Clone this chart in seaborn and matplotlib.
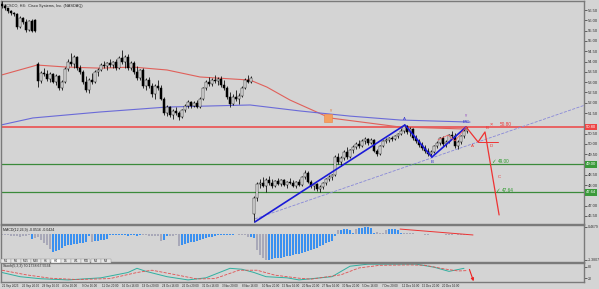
import numpy as np
import pandas as pd
import matplotlib
matplotlib.use("Agg")
import matplotlib.pyplot as plt
import seaborn as sns

sns.set_theme(style="white")
plt.rcParams["font.family"] = ["Liberation Sans", "DejaVu Sans"]

# ---------------- data ----------------
opens = [56.80, 56.70, 56.58, 56.45, 56.35, 56.30, 55.70, 56.10, 55.90, 55.55, 55.95, 56.00,
         53.90, 53.05, 53.45, 53.40, 53.15, 53.40, 53.00, 53.30, 52.70, 53.00, 53.65, 54.00,
         53.90, 54.20, 53.70, 53.50, 53.00, 52.60, 53.10, 53.00, 53.50, 53.60, 53.85, 53.80,
         53.95, 53.85, 54.00, 53.70, 54.15, 54.00, 54.20, 53.70, 53.95, 53.50, 53.20, 53.60,
         52.80, 53.10, 52.80, 52.40, 52.80, 52.70, 52.20, 51.50, 51.80, 51.40, 51.60, 51.50,
         51.30, 51.65, 51.85, 52.05, 51.85, 52.00, 51.80, 52.20, 52.70, 53.00, 52.90, 53.10,
         53.05, 53.15, 52.85, 52.70, 52.30, 51.95, 52.30, 52.20, 52.35, 52.70, 53.10, 53.00,
         46.60, 47.35, 48.05, 48.10, 47.95, 48.25, 48.10, 47.95, 48.20, 48.05, 48.25, 48.00,
         48.15, 48.10, 47.95, 48.15, 48.00, 48.40, 48.60, 48.15, 47.95, 48.05, 47.80, 47.90,
         48.10, 48.30, 48.40, 48.50, 49.35, 49.10, 49.30, 49.60, 49.35, 49.70, 49.85, 50.00,
         49.90, 50.15, 50.25, 50.05, 50.20, 49.65, 49.50, 49.90, 50.15, 50.20, 50.30, 50.25,
         50.40, 50.50, 50.65, 50.85, 50.60, 50.70, 50.30, 50.15, 49.95, 49.80, 49.65, 49.50,
         49.60, 49.90, 50.05, 50.30, 50.00, 50.10, 50.45, 50.40, 49.90, 50.10, 50.40, 50.65]
highs = [56.95, 56.78, 56.62, 56.52, 56.42, 56.36, 56.20, 56.18, 56.05, 56.00, 56.05, 56.05,
         54.00, 53.55, 53.70, 53.60, 53.50, 53.45, 53.40, 53.35, 53.10, 53.75, 54.10, 54.40,
         54.30, 54.25, 53.85, 53.60, 53.30, 53.20, 53.45, 53.60, 53.70, 53.95, 54.05, 54.00,
         54.10, 54.05, 54.10, 54.25, 54.56, 54.30, 54.35, 54.05, 54.05, 53.80, 53.65, 53.70,
         53.20, 53.25, 52.95, 52.90, 53.10, 52.85, 52.30, 51.90, 51.85, 51.70, 51.80, 51.60,
         51.70, 51.95, 52.13, 52.10, 52.10, 52.15, 52.30, 52.75, 53.10, 53.25, 53.20, 53.34,
         53.25, 53.30, 53.10, 52.80, 52.50, 52.40, 52.60, 52.45, 52.80, 53.20, 53.34, 53.30,
         47.45, 48.15, 48.30, 48.40, 48.35, 48.45, 48.30, 48.25, 48.35, 48.30, 48.30, 48.20,
         48.35, 48.25, 48.20, 48.30, 48.45, 48.73, 48.70, 48.25, 48.10, 48.10, 48.00, 48.15,
         48.35, 48.50, 48.55, 49.45, 49.55, 49.40, 49.70, 49.85, 49.75, 49.95, 50.10, 50.20,
         50.25, 50.33, 50.30, 50.30, 50.25, 49.75, 49.95, 50.20, 50.30, 50.35, 50.40, 50.45,
         50.55, 50.75, 50.95, 50.90, 50.80, 50.75, 50.45, 50.25, 50.10, 49.95, 49.80, 49.70,
         49.95, 50.15, 50.35, 50.40, 50.20, 50.50, 50.65, 50.55, 50.20, 50.45, 50.70, 50.82]
lows = [56.62, 56.50, 56.38, 56.28, 56.20, 55.60, 55.62, 55.80, 55.45, 55.50, 55.45, 55.42,
        52.78, 52.98, 53.30, 53.05, 53.00, 52.95, 52.85, 52.62, 52.60, 52.95, 53.55, 53.80,
        53.70, 53.60, 53.40, 52.90, 52.50, 52.47, 52.90, 52.95, 53.30, 53.55, 53.70, 53.60,
        53.75, 53.70, 53.60, 53.65, 53.90, 53.70, 53.60, 53.60, 53.40, 53.10, 53.10, 52.70,
        52.62, 52.70, 52.30, 52.20, 52.60, 52.13, 51.40, 51.35, 51.30, 51.20, 51.40, 51.16,
        51.25, 51.55, 51.75, 51.75, 51.80, 51.74, 51.75, 52.15, 52.60, 52.80, 52.80, 52.95,
        52.85, 52.76, 52.60, 52.20, 51.79, 51.90, 52.10, 51.95, 52.30, 52.65, 52.96, 52.96,
        46.21, 47.25, 47.85, 47.90, 47.65, 48.00, 47.85, 47.90, 48.00, 47.95, 47.95, 47.85,
        48.05, 47.90, 47.85, 47.95, 47.95, 48.30, 48.10, 47.85, 47.75, 47.70, 47.66, 47.80,
        48.00, 48.20, 48.25, 48.45, 49.00, 48.95, 49.20, 49.25, 49.30, 49.55, 49.75, 49.80,
        49.85, 50.00, 49.95, 50.00, 49.60, 49.40, 49.45, 49.85, 50.05, 50.10, 50.15, 50.20,
        50.30, 50.45, 50.55, 50.50, 50.40, 50.20, 50.05, 49.85, 49.70, 49.55, 49.40, 49.36,
        49.55, 49.80, 49.95, 49.90, 49.85, 50.05, 50.30, 49.80, 49.75, 50.00, 50.30, 50.55]
closes = [56.70, 56.58, 56.45, 56.35, 56.30, 55.70, 56.10, 55.90, 55.55, 55.95, 55.50, 55.48,
          53.05, 53.45, 53.40, 53.15, 53.40, 53.00, 53.30, 52.70, 53.00, 53.65, 54.00, 53.90,
          54.20, 53.70, 53.50, 53.00, 52.60, 53.10, 53.00, 53.50, 53.60, 53.85, 53.80, 53.95,
          53.85, 54.00, 53.70, 54.15, 54.00, 54.20, 53.70, 53.95, 53.50, 53.20, 53.60, 52.80,
          53.10, 52.80, 52.40, 52.80, 52.70, 52.20, 51.50, 51.80, 51.40, 51.60, 51.50, 51.30,
          51.65, 51.85, 52.05, 51.85, 52.00, 51.80, 52.20, 52.70, 53.00, 52.90, 53.10, 53.05,
          53.15, 52.85, 52.70, 52.30, 51.95, 52.30, 52.20, 52.35, 52.70, 53.10, 53.00, 53.20,
          47.35, 48.05, 48.10, 47.95, 48.25, 48.10, 47.95, 48.20, 48.05, 48.25, 48.00, 48.15,
          48.10, 47.95, 48.15, 48.00, 48.40, 48.60, 48.15, 47.95, 48.05, 47.80, 47.90, 48.10,
          48.30, 48.40, 48.50, 49.35, 49.10, 49.30, 49.60, 49.35, 49.70, 49.85, 50.00, 49.90,
          50.15, 50.25, 50.05, 50.20, 49.65, 49.50, 49.90, 50.15, 50.20, 50.30, 50.25, 50.40,
          50.50, 50.65, 50.85, 50.60, 50.70, 50.30, 50.15, 49.95, 49.80, 49.65, 49.50, 49.60,
          49.90, 50.05, 50.30, 50.00, 50.10, 50.45, 50.40, 49.90, 50.10, 50.40, 50.65, 50.70]

# moving averages (bar, price)
red_ma_x = [-0.3, 11.7, 21.7, 32.7, 43.7, 55.0, 66.0, 82.7, 88.3, 96.0, 109.3, 132.7, 155.0]
red_ma_y = [53.34, 53.83, 53.73, 53.68, 53.73, 53.59, 53.25, 53.10, 52.76, 52.13, 51.26, 50.82, 50.72]
blue_ma_x = [-0.3, 10.3, 32.7, 55.0, 82.7, 99.3, 116.0, 132.7, 156.0]
blue_ma_y = [50.92, 51.26, 51.55, 51.79, 51.89, 51.60, 51.35, 51.16, 51.06]

# levels
resist = 50.80
targets = [49.00, 47.64]

# harmonic / wave pattern points
wave_x = [84.3, 134.3, 143.3, 154.7]
wave_y = [46.21, 50.92, 49.36, 50.82]
proj_x = [154.7, 158.7, 161.0, 165.7]
proj_y = [50.82, 50.09, 50.58, 46.55]
sub_x = [145.3, 148.7, 151.0, 154.7]
sub_y = [50.19, 50.43, 50.14, 50.82]
chan_x = [84.3, 194.0]
chan_y = [46.36, 51.87]

# MACD histogram
macd_hist = [-0.05, -0.05, -0.08, -0.10, -0.10, -0.12, -0.15, -0.12, -0.10, -0.08,
             -0.25, -0.20, -0.15, -0.30, -0.45, -0.55,
             -0.75, -0.90, -0.85, -0.80, -0.70,
             -0.60, -0.55, -0.55, -0.50, -0.50, -0.45, -0.45, -0.40, -0.10,
             -0.40, -0.38, -0.35, -0.30, -0.30, -0.25,
             -0.08, -0.07, -0.06, -0.05, -0.08, -0.09, -0.10, -0.06, -0.05, -0.12,
             -0.05, -0.05, -0.08, -0.10, -0.12, -0.10, -0.12, -0.35, -0.30,
             -0.10, -0.12, -0.10, -0.08,
             -0.60, -0.55, -0.50, -0.45, -0.42, -0.40, -0.35, -0.30, -0.25, -0.20, -0.18, -0.15,
             -0.10, -0.08, -0.08, -0.06, -0.06, -0.05,
             -0.05, -0.04, -0.05, -0.06, -0.05, -0.15, -0.15,
             -0.20, -0.80, -1.05, -1.20,
             -1.30, -1.28, -1.25, -1.22, -1.20, -1.18, -1.15, -1.12, -1.10, -1.05, -1.02, -1.00,
             -0.95, -0.90, -0.85, -0.80, -0.75, -0.70, -0.62, -0.55, -0.48, -0.42, -0.38,
             -0.10, 0.15, 0.18, 0.20, 0.20, 0.18, 0.05,
             0.22, 0.25, 0.28, 0.30, 0.30, 0.28, 0.05, 0.06, 0.05, 0.04,
             0.18, 0.20, 0.22, 0.20, 0.18,
             0.03, 0.02, 0.03, 0.02, 0.01, -0.02, -0.03, -0.04, -0.05, -0.05, -0.04, -0.03,
             -0.02, -0.03, -0.04, -0.05, -0.06, -0.05, -0.04, -0.05, -0.06, -0.07, -0.05]
macd_col = ("gggggggggg" "bgggggg" "bbbbb" "bbbbbbbbg" "bbbbbb" "bbbbbbbbbb"
            "gggggggbb" "gggg" "bbbbbbbbbbbb" "bbbbbb" "gggggbb" "gggg"
            "bbbbbbbbbbbb" "bbbbbbbbbbb" "gbbbbbg" "bbbbbbgggg" "bbbbb"
            "ggggggggggggggggggggggg")
macd_div_x = [132.7, 157.0]
macd_div_y = [0.22, -0.07]

# Stochastic
st_main_x = [0, 6, 13, 22, 33, 42, 45, 48, 55, 62, 68, 76, 80, 84, 88, 95, 99, 110, 116,
             122, 133, 138, 144, 149, 154]
st_main_y = [50, 28, 17, 11, 22, 50, 72, 56, 28, 11, 22, 72, 67, 50, 28, 22, 11, 28, 83,
             94, 94, 94, 78, 56, 72]
st_sig_x = [0, 8, 16, 25, 36, 45, 50, 58, 65, 71, 79, 85, 91, 99, 103, 113, 119, 126, 136,
            141, 147, 152, 155]
st_sig_y = [62, 38, 20, 13, 18, 50, 62, 38, 16, 18, 62, 62, 36, 20, 15, 38, 74, 88, 90,
            88, 70, 58, 60]

# axis labels
price_ticks = [46.5, 47.0, 48.0, 48.5, 49.5, 50.0, 50.5, 51.5, 52.0, 52.5, 53.0, 53.5,
               54.0, 54.5, 55.0, 55.5, 56.0, 56.5]
date_labels = ["21 Sep 2023", "26 Sep 20:00", "29 Sep 16:00", "4 Oct 20:00", "9 Oct 16:00",
               "11 Oct 20:00", "16 Oct 16:00", "19 Oct 20:00", "24 Oct 16:00", "26 Oct 20:00",
               "31 Oct 16:00", "3 Nov 20:00", "8 Nov 16:00", "10 Nov 20:00", "15 Nov 16:00",
               "20 Nov 20:00", "27 Nov 16:00", "30 Nov 20:00", "5 Dec 16:00", "7 Dec 20:00",
               "12 Dec 16:00", "15 Dec 20:00", "20 Dec 16:00"]

# ---------------- layout ----------------
BG = "#d4d4d4"
W, H = 599, 289
fig = plt.figure(figsize=(W / 100, H / 100), dpi=100, facecolor=BG)


def rect(x0, y0, x1, y1):
    return [x0 / W, 1 - y1 / H, (x1 - x0) / W, (y1 - y0) / H]


ax = fig.add_axes(rect(1, 1, 584, 224))
axm = fig.add_axes(rect(1, 225, 584, 262))
axs = fig.add_axes(rect(1, 263, 584, 282))
XL = (-0.33, 194.0)
for a in (ax, axm, axs):
    a.set_facecolor(BG)
    a.set_xlim(*XL)
    a.set_xticks([])
    for s in a.spines.values():
        s.set_color("#7a7a7a")
        s.set_linewidth(1.0)
    a.yaxis.tick_right()
    a.tick_params(axis="y", labelsize=3, length=2, width=0.5, colors="#303030", pad=1)

# ---------------- main price chart ----------------
ax.set_ylim(46.11, 56.94)
ax.set_yticks(price_ticks)
ax.set_yticklabels([f"{v:.2f}" for v in price_ticks])

df = pd.DataFrame({"o": opens, "h": highs, "l": lows, "c": closes})
df["i"] = np.arange(len(df))
ax.vlines(df["i"], df["l"], df["h"], color="black", lw=0.55, zorder=3)
bull = df["c"] >= df["o"]
body_lo = np.minimum(df["o"], df["c"])
body_h = np.maximum(np.abs(df["c"] - df["o"]), 0.02)
ax.bar(df["i"], body_h, bottom=body_lo, width=0.62,
       color=np.where(bull, "white", "black"), edgecolor="black", linewidth=0.35, zorder=4)

sns.lineplot(x=red_ma_x, y=red_ma_y, ax=ax, color="#e0605a", lw=0.8, zorder=2)
sns.lineplot(x=blue_ma_x, y=blue_ma_y, ax=ax, color="#6a6ad8", lw=0.8, zorder=2)

ax.axhline(resist, color="#ee4444", lw=1.1, zorder=1)
for t in targets:
    ax.axhline(t, color="#3a8a3a", lw=0.9, zorder=1)

sns.lineplot(x=chan_x, y=chan_y, ax=ax, color="#8888d8", lw=0.6, linestyle="--", zorder=2)
sns.lineplot(x=wave_x, y=wave_y, ax=ax, color="#1a1ad8", lw=1.2, zorder=5, sort=False)
sns.lineplot(x=proj_x, y=proj_y, ax=ax, color="#ee3333", lw=0.9, zorder=5, sort=False)
sns.lineplot(x=sub_x, y=sub_y, ax=ax, color="#ee5555", lw=0.5, zorder=5, sort=False)
ax.plot([158.7, 165.3], [50.09, 50.09], color="#ee3333", lw=0.7, zorder=5)

sns.scatterplot(x=[108.7], y=[51.26], ax=ax, marker="s", s=30, color="#f4a060",
                edgecolor="#f08040", linewidth=0.4, zorder=6)

tk = dict(fontsize=3.2, ha="center", va="center", zorder=7)
ax.text(109.7, 51.65, "γ", color="#e07030", **tk)
ax.text(134.3, 51.22, "A", color="#2a2ad0", **tk)
ax.text(143.3, 49.10, "B", color="#2a2ad0", **tk)
ax.text(154.7, 51.08, "F/C", color="#2a2ad0", **tk)
ax.text(154.7, 51.40, "γ", color="#9040c0", **tk)
ax.text(156.8, 49.88, "A", color="#ee3333", **tk)
ax.text(161.7, 50.78, "B", color="#ee3333", **tk)
ax.text(163.0, 49.90, "D", color="#ee3333", **tk)
ax.text(165.7, 48.40, "C", color="#ee3333", **tk)
ax.text(163.0, 50.97, "×", color="#ee3333", fontsize=4, ha="center", va="center")
ax.text(166.0, 50.95, "50.80", color="#ee3333", fontsize=3.4, ha="left", va="center")
ax.text(163.8, 49.15, "✓", color="#2a9a2a", fontsize=4, ha="center", va="center",
        family="DejaVu Sans")
ax.text(165.2, 49.15, "49.00", color="#2a9a2a", fontsize=3.4, ha="left", va="center")
ax.text(165.2, 47.75, "✓", color="#2a9a2a", fontsize=4, ha="center", va="center",
        family="DejaVu Sans")
ax.text(166.6, 47.75, "47.64", color="#2a9a2a", fontsize=3.4, ha="left", va="center")
ax.text(0.006, 0.985, "#CSCO, H4:  Cisco Systems, Inc. (NASDAQ)", transform=ax.transAxes,
        fontsize=2.8, ha="left", va="top", color="#202020")

# price labels on the right
for val, fc in [(resist, "#ee4444"), (targets[0], "#3a9a3a"), (targets[1], "#3a9a3a")]:
    ax.text(1.003, (val - 46.11) / (56.94 - 46.11), f"{val:.2f}", transform=ax.transAxes,
            fontsize=3, ha="left", va="center", color="white", clip_on=False,
            bbox=dict(boxstyle="square,pad=0.25", fc=fc, ec="none"))

# ---------------- MACD ----------------
axm.set_ylim(-1.40, 0.42)
axm.set_yticks([0.34, -1.30])
axm.set_yticklabels(["0.4679", "-1.3807"], fontsize=2.5)
cols = ["#3a90f0" if c == "b" else "#a8a8b8" for c in macd_col]
axm.bar(np.arange(len(macd_hist)), macd_hist, width=0.55, color=cols, linewidth=0)
sns.lineplot(x=macd_div_x, y=macd_div_y, ax=axm, color="#ee3333", lw=0.7)
axm.text(0.004, 0.93, "MACD(12,26,9) -0.0516 -0.0424", transform=axm.transAxes,
         fontsize=2.6, ha="left", va="top", color="#202020")
btns = ["M1", "M5", "M15", "M30", "H1", "H4", "D1", "W1", "MN", "M2", "M3"]
for k, b in enumerate(btns):
    x0 = 1 + k * 10
    fig.patches.append(plt.Rectangle((x0 / W, 1 - 263 / H), 9.5 / W, 4.2 / H,
                                     transform=fig.transFigure,
                                     fc="white" if k == 5 else "#e8e8e8",
                                     ec="#909090", lw=0.3))
    fig.text((x0 + 4.75) / W, 1 - 261 / H, b, fontsize=2.2, ha="center", va="center",
             color="#202020")

# ---------------- Stochastic ----------------
axs.set_ylim(0, 100)
axs.set_yticks([80, 20])
axs.set_yticklabels(["80", "20"], fontsize=2.5)
sns.lineplot(x=st_main_x, y=st_main_y, ax=axs, color="#30b0a0", lw=0.7)
sns.lineplot(x=st_sig_x, y=st_sig_y, ax=axs, color="#e05050", lw=0.6, linestyle="--")
axs.text(0.004, 0.95, "Stoch(5,3,3) 70.1738 67.5534", transform=axs.transAxes,
         fontsize=2.6, ha="left", va="top", color="#202020")
axs.annotate("", xy=(157.5, -10), xytext=(155.5, 80), xycoords="data",
             arrowprops=dict(arrowstyle="-|>", color="#ee2222", lw=0.8, mutation_scale=4),
             annotation_clip=False)

# date labels
for k, lab in enumerate(date_labels):
    xb = k * 20 / 3
    axs.text(xb, -0.12, lab, transform=axs.get_xaxis_transform(), fontsize=2.1,
             ha="left", va="top", color="#202020", clip_on=False)

fig.savefig("out.png", dpi=100, facecolor=BG)
